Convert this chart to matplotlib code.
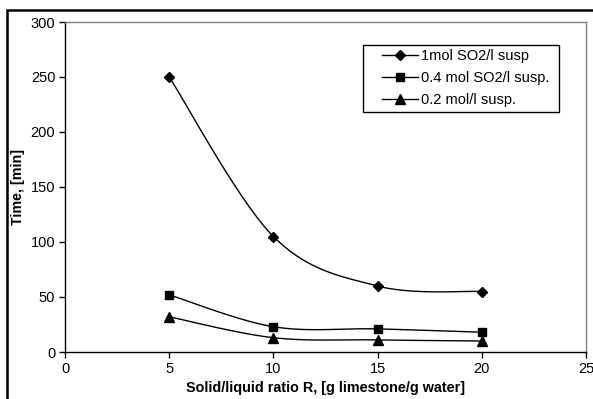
import numpy as np
import matplotlib
matplotlib.use("Agg")
import matplotlib.pyplot as plt
from matplotlib.patches import Rectangle

plt.rcParams['font.family'] = ['Liberation Sans', 'DejaVu Sans']

ratio = [5, 10, 15, 20]
series_labels = ["1mol SO2/l susp", "0.4 mol SO2/l susp.", "0.2 mol/l susp."]
time_1mol = [250, 105, 60, 55]
time_04mol = [52, 23, 21, 18]
time_02mol = [32, 13, 11, 10]
markers = ["D", "s", "^"]
marker_sizes = [5.5, 6, 6.5]
x_ticks = [0, 5, 10, 15, 20, 25]
y_ticks = [0, 50, 100, 150, 200, 250, 300]


def smooth_curve(x, y, steps=40):
    """Cubic Bezier smoothing through the points (Catmull-Rom style)."""
    x = np.asarray(x, float)
    y = np.asarray(y, float)
    pts = np.column_stack([x, y])
    n = len(pts)
    out = [pts[0]]
    for i in range(n - 1):
        p0 = pts[i - 1] if i > 0 else pts[i]
        p1 = pts[i]
        p2 = pts[i + 1]
        p3 = pts[i + 2] if i + 2 < n else pts[i + 1]
        c1 = p1 + (p2 - p0) / 6.0
        c2 = p2 - (p3 - p1) / 6.0
        t = np.linspace(0, 1, steps)[1:, None]
        seg = ((1 - t) ** 3) * p1 + 3 * ((1 - t) ** 2) * t * c1 \
            + 3 * (1 - t) * t ** 2 * c2 + t ** 3 * p2
        out.extend(seg)
    out = np.array(out)
    return out[:, 0], out[:, 1]


fig = plt.figure(figsize=(5.93, 3.99), dpi=100)
ax = fig.add_axes([65 / 593, 1 - 352 / 399, (586 - 65) / 593, (352 - 22) / 399])

for vals, lab, m, ms in zip([time_1mol, time_04mol, time_02mol], series_labels, markers, marker_sizes):
    sx, sy = smooth_curve(ratio, vals)
    ax.plot(sx, sy, color='black', lw=1.0)
    ax.plot(ratio, vals, linestyle='none', marker=m, ms=ms, color='black')
    ax.plot([], [], color='black', lw=1.0, marker=m, ms=ms, label=lab)

ax.set_xlim(0, 25)
ax.set_ylim(0, 300)
ax.set_xticks(x_ticks)
ax.set_yticks(y_ticks)
ax.tick_params(axis='both', direction='out', length=4, width=1, labelsize=10.5, pad=3, colors='black')

for side in ['top', 'right']:
    ax.spines[side].set_color('#808080')
    ax.spines[side].set_linewidth(1.0)
for side in ['left', 'bottom']:
    ax.spines[side].set_color('black')
    ax.spines[side].set_linewidth(1.0)

ax.set_xlabel("Solid/liquid ratio R, [g limestone/g water]", fontsize=10.4, fontweight='bold', labelpad=4)
ax.set_ylabel("Time, [min]", fontsize=10.3, fontweight='bold', labelpad=4)

# legend frame drawn separately so the padding can be uneven
ax.add_patch(Rectangle((0.572, 0.727), 0.948 - 0.572, 0.930 - 0.727, transform=ax.transAxes,
                       fill=True, facecolor='white', edgecolor='black', lw=1.0, zorder=4))
leg = ax.legend(loc='upper left', bbox_to_anchor=(0.608, 0.918),
                frameon=False, fontsize=10.5, handlelength=2.5, handletextpad=0.2,
                borderpad=0, labelspacing=0.56, borderaxespad=0)
leg.set_zorder(5)

# outer chart frame
fig.patches.append(Rectangle((7 / 593, -0.1), 1.2, 1 - 10 / 399 + 0.1, transform=fig.transFigure,
                             fill=False, edgecolor='black', lw=1.8))

fig.savefig("out.png", dpi=100)
